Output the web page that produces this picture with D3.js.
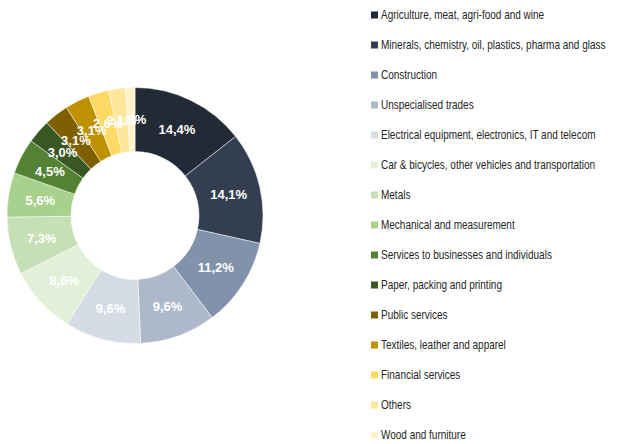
<!DOCTYPE html>
<html>
<head>
<meta charset="utf-8">
<script src="https://cdn.jsdelivr.net/npm/d3@7"></script>
<style>
  html, body { margin: 0; padding: 0; background: #ffffff; }
  svg { display: block; }
</style>
</head>
<body>
<svg id="chart" width="622" height="444"></svg>
<script>
// Sector breakdown (share of total, %)
const sectors = [
  "Agriculture, meat, agri-food and wine",
  "Minerals, chemistry, oil, plastics, pharma and glass",
  "Construction",
  "Unspecialised trades",
  "Electrical equipment, electronics, IT and telecom",
  "Car & bicycles, other vehicles and transportation",
  "Metals",
  "Mechanical and measurement",
  "Services to businesses and individuals",
  "Paper, packing and printing",
  "Public services",
  "Textiles, leather and apparel",
  "Financial services",
  "Others",
  "Wood and furniture"
];
const shares = [14.4, 14.1, 11.2, 9.6, 9.6, 8.6, 7.3, 5.6, 4.5, 3.0, 3.1, 3.1, 2.6, 2.1, 1.2];
const palette = [
  "#222a35", "#333f50", "#8192ab", "#adb9ca", "#d6dce5",
  "#e2f0d9", "#c5e0b4", "#a9d18e", "#548235", "#385723",
  "#7f6000", "#bf9000", "#ffd966", "#ffe699", "#fff2cc"
];

const data = sectors.map((name, i) => ({ name, value: shares[i] }));

const svg = d3.select("#chart");
const cx = 135, cy = 215.5, rOuter = 128, rInner = 64;

const color = d3.scaleOrdinal().domain(sectors).range(palette);
const pie = d3.pie().sort(null).value(d => d.value);
const arc = d3.arc().innerRadius(rInner).outerRadius(rOuter);
const labelArc = d3.arc().innerRadius((rInner + rOuter) / 2).outerRadius((rInner + rOuter) / 2);

const locale = d3.formatLocale({ decimal: ",", thousands: " ", grouping: [3], currency: ["", "€"] });
const fmt = locale.format(".1f");

const donut = svg.append("g").attr("transform", `translate(${cx},${cy})`);
const arcs = pie(data);

donut.selectAll("path.slice")
  .data(arcs)
  .join("path")
  .attr("class", "slice")
  .attr("d", arc)
  .attr("fill", d => color(d.data.name))
  .attr("stroke", "#ffffff")
  .attr("stroke-width", 0.5);

donut.selectAll("text.value")
  .data(arcs)
  .join("text")
  .attr("class", "value")
  .attr("transform", d => `translate(${labelArc.centroid(d)})`)
  .attr("text-anchor", "middle")
  .attr("dy", "0.36em")
  .attr("font-family", "'Liberation Sans', Arial, sans-serif")
  .attr("font-weight", "bold")
  .attr("font-size", 13)
  .attr("fill", "#ffffff")
  .text(d => fmt(d.data.value) + "%");

// Legend
const legendY = d3.scalePoint().domain(sectors).range([15, 435]);
const legend = svg.append("g");
const rows = legend.selectAll("g.row")
  .data(sectors)
  .join("g")
  .attr("class", "row")
  .attr("transform", d => `translate(371,${legendY(d)})`);

rows.append("rect")
  .attr("x", 0)
  .attr("y", -3.5)
  .attr("width", 7)
  .attr("height", 7)
  .attr("fill", d => color(d));

rows.append("text")
  .attr("transform", "translate(10,0) scale(0.8,1)")
  .attr("dy", "0.35em")
  .attr("font-family", "'Liberation Sans', Arial, sans-serif")
  .attr("font-size", 12.5)
  .attr("fill", "#262626")
  .text(d => d);
</script>
</body>
</html>
